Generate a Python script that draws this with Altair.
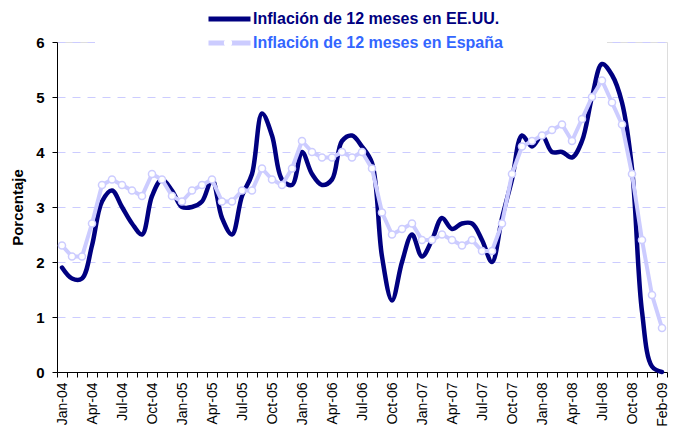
import altair as alt
import pandas as pd

FONT = "Liberation Sans"

months = [
    "Jan-04", "Feb-04", "Mar-04", "Apr-04", "May-04", "Jun-04", "Jul-04", "Aug-04", "Sep-04", "Oct-04", "Nov-04", "Dec-04",
    "Jan-05", "Feb-05", "Mar-05", "Apr-05", "May-05", "Jun-05", "Jul-05", "Aug-05", "Sep-05", "Oct-05", "Nov-05", "Dec-05",
    "Jan-06", "Feb-06", "Mar-06", "Apr-06", "May-06", "Jun-06", "Jul-06", "Aug-06", "Sep-06", "Oct-06", "Nov-06", "Dec-06",
    "Jan-07", "Feb-07", "Mar-07", "Apr-07", "May-07", "Jun-07", "Jul-07", "Aug-07", "Sep-07", "Oct-07", "Nov-07", "Dec-07",
    "Jan-08", "Feb-08", "Mar-08", "Apr-08", "May-08", "Jun-08", "Jul-08", "Aug-08", "Sep-08", "Oct-08", "Nov-08", "Dec-08",
    "Feb-09",
]

us = [
    1.9, 1.7, 1.7, 2.3, 3.1, 3.3, 3.0, 2.7, 2.5, 3.2, 3.5, 3.3,
    3.0, 3.0, 3.1, 3.5, 2.8, 2.5, 3.2, 3.6, 4.7, 4.3, 3.5, 3.4,
    4.0, 3.6, 3.4, 3.5, 4.2, 4.3, 4.1, 3.8, 2.1, 1.3, 2.0, 2.5,
    2.1, 2.4, 2.8, 2.6, 2.7, 2.7, 2.4, 2.0, 2.8, 3.5, 4.3, 4.1,
    4.3, 4.0, 4.0, 3.9, 4.2, 5.0, 5.6, 5.4, 4.9, 3.7, 1.1, 0.1,
    0.0,
]

es = [
    2.3, 2.1, 2.1, 2.7, 3.4, 3.5, 3.4, 3.3, 3.2, 3.6, 3.5, 3.2,
    3.1, 3.3, 3.4, 3.5, 3.1, 3.1, 3.3, 3.3, 3.7, 3.5, 3.4, 3.7,
    4.2, 4.0, 3.9, 3.9, 4.0, 3.9, 4.0, 3.7, 2.9, 2.5, 2.6, 2.7,
    2.4, 2.4, 2.5, 2.4, 2.3, 2.4, 2.2, 2.2, 2.7, 3.6, 4.1, 4.2,
    4.3, 4.4, 4.5, 4.2, 4.6, 5.0, 5.3, 4.9, 4.5, 3.6, 2.4, 1.4,
    0.8,
]

series_keys = ["US", "ES"]
series_names = ["Inflación de 12 meses en EE.UU.", "Inflación de 12 meses en España"]
series_colors = ["#000080", "#CCCCFF"]
label_colors = ["#000080", "#3366FF"]
y_ticks = [0, 1, 2, 3, 4, 5, 6]

rows = []
for i, m in enumerate(months):
    rows.append({"idx": i, "month": m, "series": "US", "value": us[i]})
    rows.append({"idx": i, "month": m, "series": "ES", "value": es[i]})
df = pd.DataFrame(rows)

n = len(months)
tick_vals = [k - 0.5 for k in range(n + 1)]
js_months = "[" + ",".join("'" + m + "'" for m in months) + "]"
x_label_expr = (
    f"(round(datum.value + 0.5) % 3 == 0 && datum.value < {n - 1}) ? "
    f"{js_months}[round(datum.value + 0.5)] : ''"
)
legend_label_expr = f"datum.value == 'US' ? '{series_names[0]}' : '{series_names[1]}'"

x = alt.X(
    "idx:Q",
    scale=alt.Scale(domain=[-0.5, n - 0.5], nice=False, zero=False),
    axis=alt.Axis(
        values=tick_vals, labelExpr=x_label_expr, labelAngle=270, labelOffset=5,
        labelOverlap=False, labelFlush=False, labelFontSize=14, labelFont=FONT,
        labelColor="black", labelPadding=5, tickSize=5, tickColor="black",
        domainColor="black", grid=False, title=None, labelAlign="right", labelBaseline="middle",
    ),
)
y = alt.Y(
    "value:Q",
    scale=alt.Scale(domain=[0, 6], nice=False),
    axis=alt.Axis(
        values=y_ticks, format="d", title="Porcentaje", titleFontSize=15, titleFont=FONT,
        titleFontWeight="bold", titleColor="black", titlePadding=10,
        labelFontSize=15, labelFontWeight="bold", labelFont=FONT, labelColor="black",
        labelPadding=8, tickSize=5, tickColor="black", domainColor="black",
        grid=True, gridColor="#CCCCFF", gridDash=[8, 7], gridWidth=1,
    ),
)
color = alt.Color(
    "series:N",
    scale=alt.Scale(domain=series_keys, range=series_colors),
    legend=alt.Legend(
        title="\u00a0", titleOrient="right", titlePadding=100, titleFontSize=16,
        orient="none", legendX=38, legendY=-39, symbolType="stroke",
        symbolSize=1764, symbolStrokeWidth=5, symbolOffset=107, padding=4, rowPadding=0,
        clipHeight=24, labelOffset=0, labelFontSize=16, labelFontWeight="bold",
        labelFont=FONT, labelLimit=1000,
        labelColor=alt.ExprRef(expr=f"datum.value == 'US' ? '{label_colors[0]}' : '{label_colors[1]}'"),
        labelExpr=legend_label_expr, fillColor="white", zindex=1,
    ),
)

base = alt.Chart(df)
us_line = base.transform_filter("datum.series == 'US'").mark_line(
    strokeWidth=4.5, interpolate="catmull-rom", strokeJoin="round", strokeCap="round"
).encode(x=x, y=y, color=color)
es_line = base.transform_filter("datum.series == 'ES'").mark_line(
    strokeWidth=4, strokeJoin="round"
).encode(x=x, y=y, color=color)
es_pts = base.transform_filter("datum.series == 'ES'").mark_point(
    shape="circle", filled=True, fill="white", stroke="#CCCCFF", strokeWidth=1.5, size=50, opacity=1
).encode(
    x=x, y=y,
    shape=alt.Shape(
        "series:N",
        scale=alt.Scale(domain=["ES"], range=["circle"]),
        legend=alt.Legend(
            title=None, orient="none", legendX=165.5, legendY=-11, padding=0, clipHeight=24,
            labelExpr="''",
            symbolFillColor=alt.ExprRef(expr="'white'"),
            symbolStrokeColor=alt.ExprRef(expr="'#C4C4FF'"),
            symbolStrokeWidth=1.8, symbolSize=70, zindex=2,
        ),
    ),
)

chart = alt.layer(us_line, es_line, es_pts).properties(
    width=610, height=330, autosize="none",
    padding={"left": 49, "top": 34, "right": 5, "bottom": 54},
    background="white",
).configure_view(stroke=None).configure(font=FONT)

chart.save("out.html", embed_options={"renderer": "svg", "actions": False})
